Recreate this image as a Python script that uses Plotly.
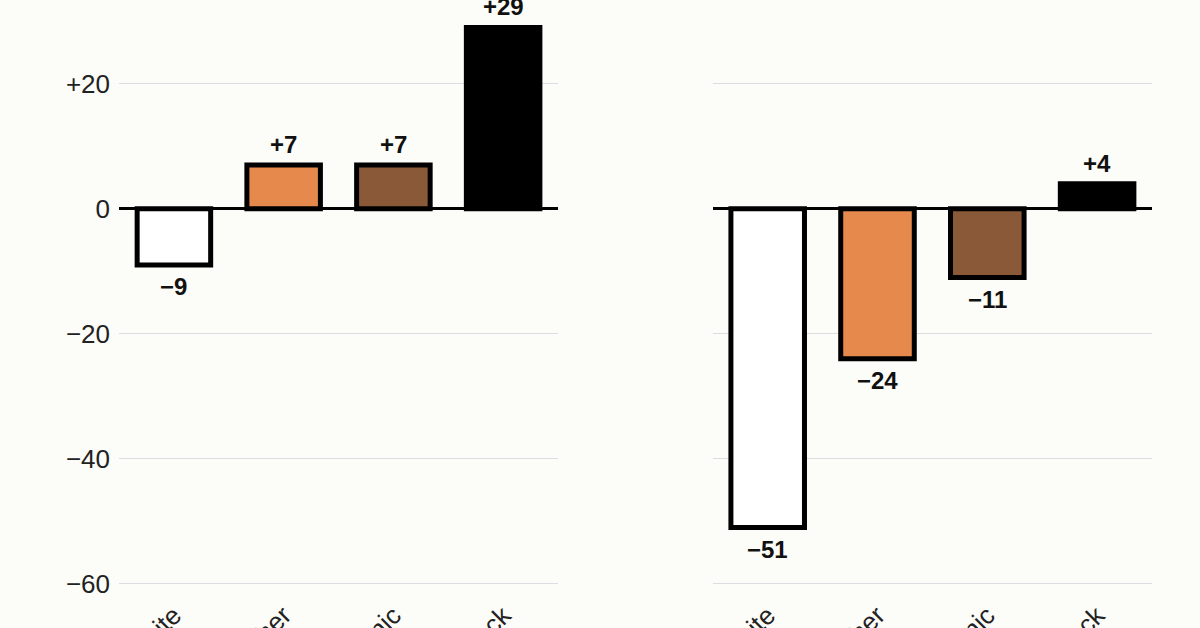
import plotly.graph_objects as go
from plotly.subplots import make_subplots

# categories and the two panels of change values
categorias = ['White', 'Other', 'Hispanic', 'Black']
valores_esq = [-9, 7, 7, 29]
valores_dir = [-51, -24, -11, 4]
cores = ['#ffffff', '#e58a4c', '#8a5a38', '#000000']

ticks_y = [20, 0, -20, -40, -60]
ticks_y_txt = ['+20', '0', '\u221220', '\u221240', '\u221260']

FUNDO = '#fcfcf8'


def rotulo(v):
    return f'+{v}' if v > 0 else f'\u2212{abs(v)}'


fig = make_subplots(rows=1, cols=2)

for col, valores in [(1, valores_esq), (2, valores_dir)]:
    fig.add_trace(go.Bar(x=categorias, y=valores,
                         marker=dict(color=cores, line=dict(color='#000000', width=5)),
                         showlegend=False, hoverinfo='skip'), row=1, col=col)
    eixo = '' if col == 1 else '2'
    for cat, v in zip(categorias, valores):
        fig.add_annotation(x=cat, y=v, xref='x' + eixo, yref='y' + eixo,
                           text=f'<b>{rotulo(v)}</b>', showarrow=False,
                           yanchor='bottom' if v > 0 else 'top',
                           yshift=5 if v > 0 else -6,
                           font=dict(family='Liberation Sans, Arial', size=24, color='#111111'))

eixo_y = dict(range=[-61, 33.4], tickvals=ticks_y, ticktext=ticks_y_txt,
              showgrid=True, gridcolor='#dcdde3', gridwidth=1,
              zeroline=True, zerolinecolor='#000000', zerolinewidth=3,
              ticks='', showline=False,
              tickfont=dict(family='Liberation Sans, Arial', size=26, color='#222222'))
eixo_x = dict(tickangle=-45, showgrid=False, showline=False, ticks='', automargin=False,
              ticklabelstandoff=4,
              tickfont=dict(family='Liberation Sans, Arial', size=26, color='#222222'))

fig.update_layout(
    width=1200, height=628,
    margin=dict(l=0, r=0, t=0, b=38),
    paper_bgcolor=FUNDO, plot_bgcolor=FUNDO,
    bargap=0.33,
    xaxis=dict(domain=[0.0992, 0.465], **eixo_x),
    xaxis2=dict(domain=[0.594, 0.96], **eixo_x),
    yaxis=dict(automargin=False, ticklabelstandoff=8, **eixo_y),
    yaxis2=dict(showticklabels=False, **eixo_y),
)

# drop the browser's default body margin so the chart fills the window
fig.write_html('out.html', config={'displayModeBar': False},
               post_script=f"document.body.style.margin='0';document.body.style.background='{FUNDO}';")
